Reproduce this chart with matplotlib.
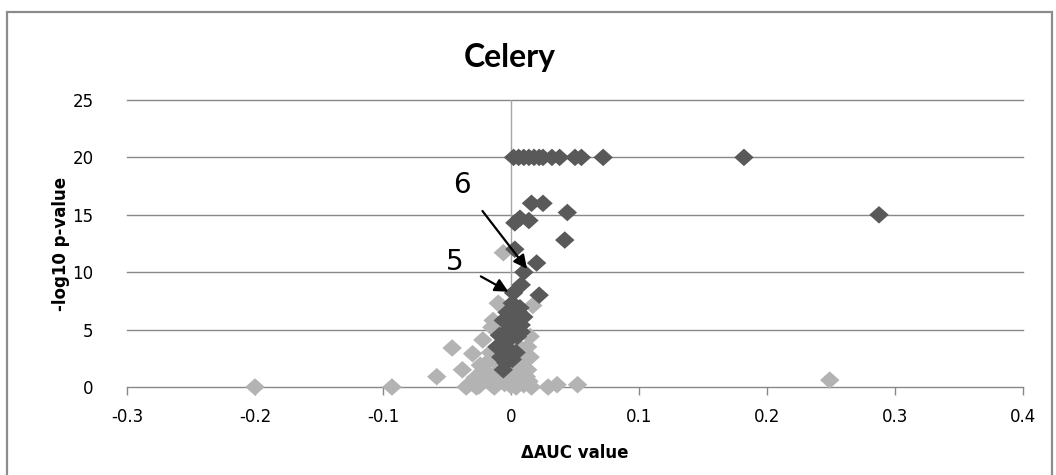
import matplotlib
matplotlib.use("Agg")
import matplotlib.pyplot as plt
from matplotlib.patches import Rectangle

# Significant markers (dark)
sig_x = [0.002, 0.006, 0.010, 0.014, 0.018, 0.022, 0.025, 0.032, 0.038, 0.050,
         0.055, 0.072, 0.182, 0.2875,
         0.016, 0.025, 0.044, 0.007, 0.014, 0.003, 0.042, 0.003, 0.020, 0.010,
         0.008, 0.022, 0.002, 0.001, 0.007, -0.003, 0.010, -0.006, 0.004, 0.008,
         -0.009, 0.005, -0.003, -0.011, -0.001, 0.004, -0.008, -0.004, -0.006,
         0.006, 0.002, -0.002, 0.008, -0.005, 0.001]
sig_y = [20.0, 20.0, 20.0, 20.0, 20.0, 20.0, 20.0, 20.0, 20.0, 20.0,
         20.0, 20.0, 20.0, 15.0,
         16.0, 16.0, 15.2, 14.7, 14.5, 14.3, 12.8, 12.0, 10.8, 10.0,
         8.9, 8.0, 8.2, 7.3, 6.9, 6.5, 6.1, 5.8, 5.6, 5.4,
         4.5, 4.4, 4.0, 3.5, 3.2, 3.0, 2.6, 2.1, 1.5,
         6.5, 6.0, 5.0, 4.8, 3.8, 2.4]

# Non-significant markers (light)
ns_x = [-0.200, -0.093, -0.058, -0.046, -0.038, -0.030, -0.022, -0.015, -0.010,
        -0.014, -0.006, 0.015, 0.015, 0.013, 0.029, 0.036, 0.052, 0.249,
        -0.032, -0.025, -0.020, -0.015, -0.010, -0.005, 0.000, 0.005, 0.010,
        0.012, -0.018, -0.008, 0.002, 0.008, -0.012, 0.006, -0.016, 0.010,
        -0.003, 0.013, -0.020, -0.006, 0.017, -0.028, 0.016, 0.004,
        -0.035, -0.027, -0.022, -0.013, -0.002, 0.007, 0.014, -0.024, -0.009]
ns_y = [0.0, 0.0, 0.9, 3.4, 1.5, 2.9, 4.1, 5.2, 7.3,
        5.8, 11.7, 4.4, 2.6, 1.5, 0.0, 0.2, 0.2, 0.6,
        0.3, 0.1, 0.6, 0.2, 0.8, 0.3, 0.1, 0.5, 0.2,
        0.9, 1.2, 1.6, 1.2, 2.0, 2.2, 3.5, 3.0, 1.0,
        1.0, 3.5, 2.0, 6.9, 7.1, 0.8, 0.0, 0.0,
        0.0, 0.0, 1.4, 0.0, 0.5, 0.9, 0.5, 1.9, 2.8]

x_ticks = [-0.3, -0.2, -0.1, 0, 0.1, 0.2, 0.3, 0.4]
x_tick_labels = ["-0.3", "-0.2", "-0.1", "0", "0.1", "0.2", "0.3", "0.4"]
y_ticks = [0, 5, 10, 15, 20, 25]
y_tick_labels = ["0", "5", "10", "15", "20", "25"]

dark = "#595959"
light = "#b3b3b3"
grid = "#888888"

diamond = [(-1.0, 0.0), (0.0, 0.9), (1.0, 0.0), (0.0, -0.9), (-1.0, 0.0)]

fig = plt.figure(figsize=(10.56, 4.75), dpi=100)
fig.patches.append(Rectangle((7 / 1056, -0.1), 1045 / 1056, 1.1 - 12 / 475,
                             transform=fig.transFigure, fill=False,
                             edgecolor="#8c8c8c", linewidth=1.6))

ax = fig.add_axes([127 / 1056, 1 - 387 / 475, 896 / 1056, 287 / 475])
ax.set_xlim(-0.3, 0.4)
ax.set_ylim(0, 25)

for yv in y_ticks:
    ax.axhline(yv, color=grid, linewidth=1.0, zorder=1, clip_on=False)
ax.axvline(0, color="#a6a6a6", linewidth=1.0, zorder=1)

ax.scatter(ns_x, ns_y, marker=diamond, s=14 ** 2, color=light,
           edgecolors="none", zorder=3, clip_on=False)
ax.scatter(sig_x, sig_y, marker=diamond, s=14 ** 2, color=dark,
           edgecolors="none", zorder=4, clip_on=False)

for s in ax.spines.values():
    s.set_visible(False)

ax.set_xticks(x_ticks)
ax.set_xticklabels(x_tick_labels)
ax.set_yticks(y_ticks)
ax.set_yticklabels(y_tick_labels)
ax.tick_params(axis="x", length=6, width=1.0, color=grid, pad=9,
               labelsize=12, labelcolor="black")
ax.tick_params(axis="y", length=0, pad=24, labelsize=12, labelcolor="black")

ax.set_xlabel("ΔAUC value", fontsize=12, fontweight="bold", labelpad=13)
ax.set_ylabel("-log10 p-value", fontsize=12, fontweight="bold", labelpad=2)

fig.text(510 / 1056, 1 - 57 / 475, "Celery", fontsize=23, fontweight="bold",
         family="Lato", ha="center", va="center")

ax.annotate("6", xy=(0.0125, 10.3), xytext=(-0.038, 17.6),
            fontsize=20, ha="center", va="center", zorder=6,
            arrowprops=dict(arrowstyle="-|>", color="black", lw=1.6,
                            mutation_scale=20, shrinkA=10, shrinkB=0))
ax.annotate("5", xy=(-0.002, 8.3), xytext=(-0.044, 10.9),
            fontsize=20, ha="center", va="center", zorder=6,
            arrowprops=dict(arrowstyle="-|>", color="black", lw=1.6,
                            mutation_scale=20, shrinkA=12, shrinkB=0))

fig.savefig("out.png", dpi=100)
